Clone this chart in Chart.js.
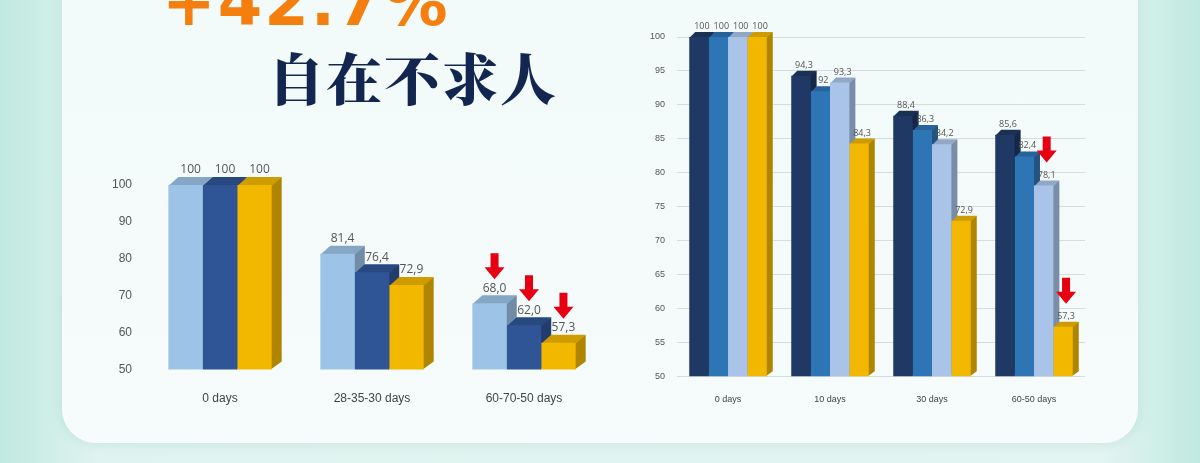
<!DOCTYPE html>
<html><head><meta charset="utf-8">
<script src="https://cdn.jsdelivr.net/npm/chart.js@4/dist/chart.umd.min.js"></script>
<style>
  body{margin:0;width:1200px;height:463px;overflow:hidden;background:linear-gradient(90deg,#bfe9e0 0%,#dff3ef 8%,#e3f4f1 92%,#bfe9e0 100%);font-family:"Noto Sans",sans-serif;position:relative}
  #card{position:absolute;left:62px;top:-40px;width:1076px;height:483px;border-radius:34px;background:linear-gradient(180deg,#f2fafa,#f6fbfb);box-shadow:0 0 12px rgba(120,180,170,.25)}
  #pct{position:absolute;left:162px;top:-34px;font:bold 64px "DejaVu Sans",sans-serif;color:#f57f0e;letter-spacing:2px}
  #title{position:absolute;left:268px;top:36px;font:900 56px "Noto Serif CJK SC","Noto Sans CJK SC",serif;color:#12264f;letter-spacing:2px}
  canvas{position:absolute}
  #c1{left:90px;top:150px}
  #c2{left:630px;top:10px}
</style></head><body>
<div id="card"></div>
<div id="pct">+42.7%</div>
<div id="title">自在不求人</div>
<canvas id="c1" width="530" height="270"></canvas>
<canvas id="c2" width="470" height="405"></canvas>
<script>
// ---------- Data ----------
const leftCategories = ["0 days", "28-35-30 days", "60-70-50 days"];
const leftA = [100, 81.4, 68.0];
const leftB = [100, 76.4, 62.0];
const leftC = [100, 72.9, 57.3];
const leftLabels = [["100", "81,4", "68,0"], ["100", "76,4", "62,0"], ["100", "72,9", "57,3"]];
const leftArrows = [[2], [2], [2]];   // [dataset][categoryIndex]
const leftTicks = [50, 60, 70, 80, 90, 100];

const rightCategories = ["0 days", "10 days", "30 days", "60-50 days"];
const rightA = [100, 94.3, 88.4, 85.6];
const rightB = [100, 92, 86.3, 82.4];
const rightC = [100, 93.3, 84.2, 78.1];
const rightD = [100, 84.3, 72.9, 57.3];
const rightLabels = [["100", "94,3", "88,4", "85,6"], ["100", "92", "86,3", "82,4"],
                     ["100", "93,3", "84,2", "78,1"], ["100", "84,3", "72,9", "57,3"]];
const rightArrows = [[], [], [3], [3]];
const rightTicks = [50, 55, 60, 65, 70, 75, 80, 85, 90, 95, 100];

// ---------- Helpers ----------
function shade(hex, f) {
  const n = parseInt(hex.slice(1), 16);
  const r = Math.round(((n >> 16) & 255) * f), g = Math.round(((n >> 8) & 255) * f), b = Math.round((n & 255) * f);
  return `rgb(${r},${g},${b})`;
}

function eachBar(chart, fn) {
  chart.data.datasets.forEach((ds, di) => {
    chart.getDatasetMeta(di).data.forEach((bar, i) => {
      const l = bar.x - bar.width / 2, r = bar.x + bar.width / 2;
      fn(ds, di, i, bar, l, r, bar.y, chart.chartArea.bottom);
    });
  });
}

// fake 3D faces behind the bars, value labels and red arrows on top
const depthPlugin = {
  id: "depth",
  beforeDatasetsDraw(chart, args, opts) {
    const ctx = chart.ctx, dx = opts.dx, dy = opts.dy;
    ctx.save();
    eachBar(chart, (ds, di, i, bar, l, r, t, b) => {
      ctx.fillStyle = shade(ds.backgroundColor, 0.72);
      ctx.beginPath(); ctx.moveTo(r - 1, t); ctx.lineTo(r + dx, t - dy); ctx.lineTo(r + dx, b - dy); ctx.lineTo(r - 1, b); ctx.fill();
      ctx.fillStyle = shade(ds.backgroundColor, 0.85);
      ctx.beginPath(); ctx.moveTo(l, t + 1); ctx.lineTo(l + dx, t - dy); ctx.lineTo(r + dx, t - dy); ctx.lineTo(r, t + 1); ctx.fill();
    });
    ctx.restore();
  },
  afterDatasetsDraw(chart, args, opts) {
    const ctx = chart.ctx, dx = opts.dx, dy = opts.dy;
    ctx.save();
    eachBar(chart, (ds, di, i, bar, l, r, t) => {
      ctx.fillStyle = "#555";
      ctx.font = opts.font;
      ctx.textAlign = "center"; ctx.textBaseline = "bottom";
      ctx.fillText(opts.labels[di][i], bar.x + dx / 2, t - dy - 1);
      if (opts.arrows[di].includes(i)) {
        const ax = bar.x + dx / 2, ay = t - dy - opts.arrowGap;
        ctx.fillStyle = "#e60012";
        ctx.beginPath();
        ctx.moveTo(ax - 4, ay - 26); ctx.lineTo(ax + 4, ay - 26); ctx.lineTo(ax + 4, ay - 12);
        ctx.lineTo(ax + 10, ay - 12); ctx.lineTo(ax, ay); ctx.lineTo(ax - 10, ay - 12); ctx.lineTo(ax - 4, ay - 12);
        ctx.fill();
      }
    });
    ctx.restore();
  }
};

function makeChart(id, categories, series, colors, ticks, grid, pad, catPct, opts) {
  return new Chart(document.getElementById(id), {
    type: "bar",
    data: {
      labels: categories,
      datasets: series.map((d, k) => ({ data: d, backgroundColor: colors[k], barPercentage: 1, categoryPercentage: catPct }))
    },
    options: {
      responsive: false, animation: false,
      layout: { padding: pad },
      plugins: { legend: { display: false }, tooltip: { enabled: false }, depth: opts },
      scales: {
        x: { grid: { display: false }, border: { display: false },
             ticks: { color: "#444", font: { size: opts.tickSize }, padding: opts.xPad } },
        y: { min: 50, max: 100, afterBuildTicks: s => { s.ticks = ticks.map(v => ({ value: v })); },
             grid: { display: grid, color: "#d6dcdc", drawTicks: false }, border: { display: false },
             ticks: { color: "#555", font: { size: opts.tickSize }, padding: 12 } }
      }
    },
    plugins: [depthPlugin]
  });
}

makeChart("c1", leftCategories, [leftA, leftB, leftC], ["#9dc3e6", "#2f5597", "#f2b800"], leftTicks, false,
  { top: 35, right: 20, left: 10, bottom: 0 }, 0.68,
  { dx: 10, dy: 8, labels: leftLabels, arrows: leftArrows, arrowGap: 16, font: "12px 'Open Sans'", tickSize: 12, xPad: 14 });

makeChart("c2", rightCategories, [rightA, rightB, rightC, rightD], ["#1f3864", "#2e75b6", "#a9c4e8", "#f2b800"], rightTicks, true,
  { top: 27, right: 15, left: 8, bottom: 0 }, 0.76,
  { dx: 6, dy: 5, labels: rightLabels, arrows: rightArrows, arrowGap: 18, font: "9px 'Open Sans'", tickSize: 9, xPad: 10 });
</script>
</body></html>
